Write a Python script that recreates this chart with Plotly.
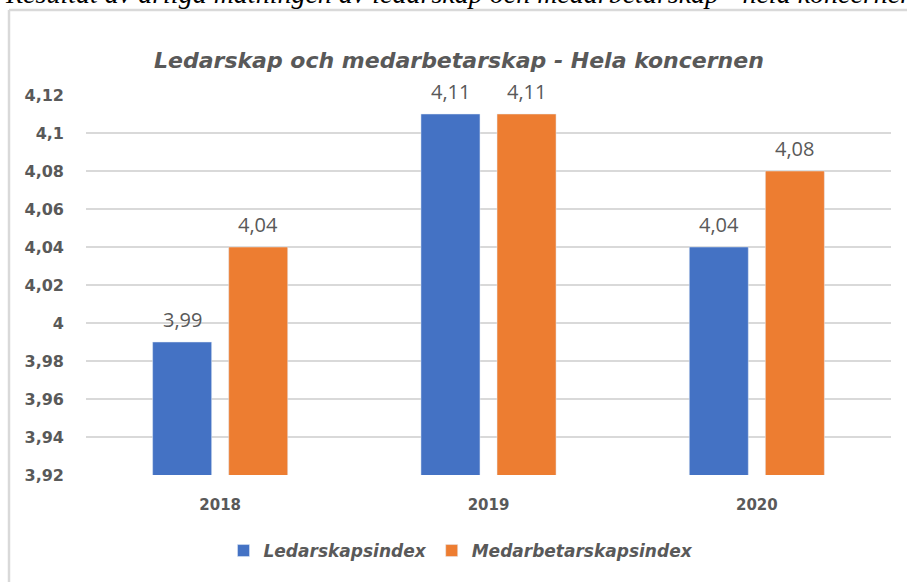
import plotly.graph_objects as go

years = ["2018", "2019", "2020"]
ledarskap = [3.99, 4.11, 4.04]
medarbetarskap = [4.04, 4.11, 4.08]
series_names = ["Ledarskapsindex", "Medarbetarskapsindex"]
series_colors = ["#4472C4", "#ED7D31"]
tick_vals = [3.92, 3.94, 3.96, 3.98, 4.0, 4.02, 4.04, 4.06, 4.08, 4.1, 4.12]
tick_text = ["3,92", "3,94", "3,96", "3,98", "4", "4,02", "4,04", "4,06", "4,08", "4,1", "4,12"]
title_text = "Ledarskap och medarbetarskap - Hela koncernen"
caption_text = "Resultat av årliga mätningen av ledarskap och medarbetarskap - hela koncernen"

W, H = 907, 582
L, R, T, B = 86, 16, 95, 107
pw = W - L - R
ph = H - T - B

def px_x(x):
    return (x - L) / pw

def px_y(y):
    return (H - B - y) / ph

gray = "#595959"
label_font = dict(family="Open Sans", size=20, color=gray)

fig = go.Figure()
series = [ledarskap, medarbetarskap]
for name, vals, col in zip(series_names, series, series_colors):
    fig.add_trace(go.Bar(x=years, y=vals, name=name, marker_color=col, hoverinfo="skip"))

# data labels above each bar (grouped offset = half a bar slot)
slot_px = 76
for si, vals in enumerate(series):
    shift = (si - 0.5) * slot_px
    for ci, v in enumerate(vals):
        fig.add_annotation(
            x=ci, y=v, xref="x", yref="y", text=f"{v:.2f}".replace(".", ","),
            showarrow=False, xanchor="center", yanchor="bottom",
            xshift=shift, yshift=7, font=label_font,
        )

fig.update_layout(
    width=W, height=H,
    margin=dict(l=L, r=R, t=T, b=B),
    paper_bgcolor="white", plot_bgcolor="white",
    barmode="group", bargap=0.433, bargroupgap=0.224,
    separators=",.",
    showlegend=True,
    legend=dict(
        orientation="h", x=px_x(461), xanchor="center", y=px_y(551), yanchor="middle",
        font=dict(family="DejaVu Sans", size=17, color=gray, style="italic", weight="bold"),
        itemwidth=30, tracegroupgap=0,
    ),
    xaxis=dict(
        type="category", range=[-0.5, len(years) - 0.5],
        showgrid=False, showline=False, zeroline=False, ticks="",
        tickfont=dict(family="DejaVu Sans", size=15, color=gray, weight="bold"),
        ticklabelstandoff=19,
    ),
    yaxis=dict(
        range=[3.92, 4.12], tickvals=tick_vals, ticktext=tick_text,
        showgrid=True, gridcolor="#d9d9d9", gridwidth=2,
        zeroline=False, showline=False, ticks="",
        tickfont=dict(family="DejaVu Sans", size=16, color=gray, weight="bold"),
        ticklabelstandoff=21,
    ),
)

fig.add_annotation(
    text=title_text, xref="paper", yref="paper",
    x=px_x(459), y=px_y(60), xanchor="center", yanchor="middle", showarrow=False,
    font=dict(family="DejaVu Sans", size=22, color=gray, style="italic", weight="bold"),
)
fig.add_annotation(
    text=caption_text, xref="paper", yref="paper",
    x=px_x(3), y=px_y(-6), xanchor="left", yanchor="middle", showarrow=False,
    font=dict(family="Liberation Serif", size=28, color="#000000", style="italic"),
)

border = "#d9d9d9"
fig.add_shape(type="line", xref="paper", yref="paper",
              x0=px_x(9), x1=px_x(910), y0=px_y(10), y1=px_y(10),
              line=dict(color=border, width=2.5))
fig.add_shape(type="line", xref="paper", yref="paper",
              x0=px_x(9), x1=px_x(9), y0=px_y(10), y1=px_y(590),
              line=dict(color=border, width=2.5))

fig.write_html("out.html", config={"displayModeBar": False},
               post_script="document.body.style.margin='0';")
